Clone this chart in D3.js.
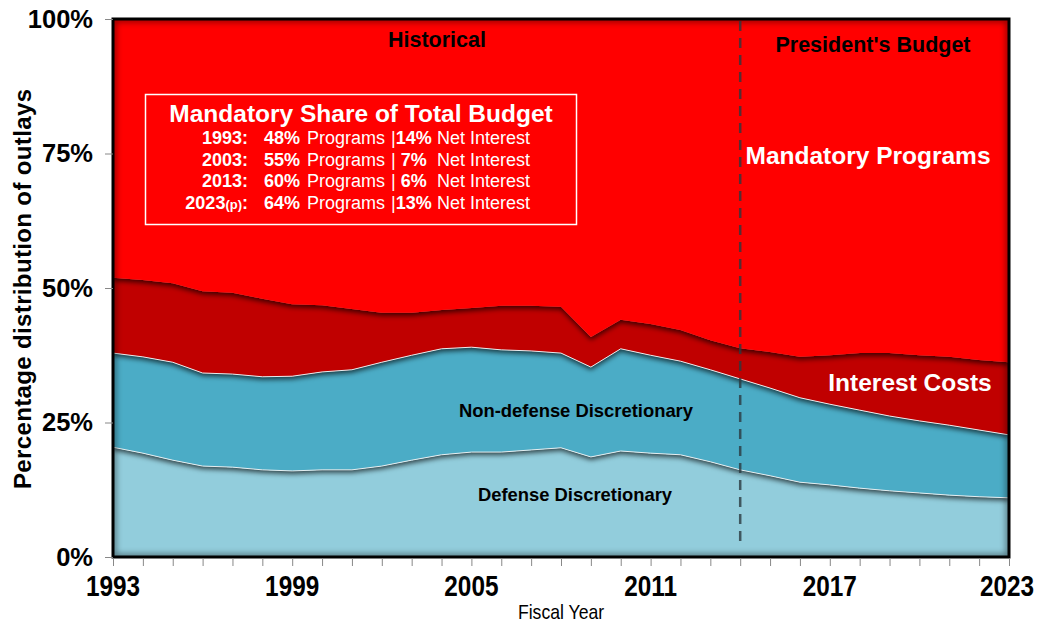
<!DOCTYPE html>
<html>
<head>
<meta charset="utf-8">
<script src="https://cdn.jsdelivr.net/npm/d3@7"></script>
<style>
    body { margin: 0; background: #fff; }
    svg { display: block; font-family: "Liberation Sans", Arial, sans-serif; }
</style>
</head>
<body>
<div id="chart"></div>
<script>
// shares of total outlays (%)
const years = [1993, 1994, 1995, 1996, 1997, 1998, 1999, 2000, 2001, 2002, 2003, 2004, 2005, 2006, 2007,
    2008, 2009, 2010, 2011, 2012, 2013, 2014, 2015, 2016, 2017, 2018, 2019, 2020, 2021, 2022, 2023];
const defense = [20.4, 19.3, 18.0, 16.9, 16.7, 16.2, 16.0, 16.2, 16.2, 16.9, 18.0, 19.0, 19.5, 19.5, 19.9,
    20.3, 18.6, 19.7, 19.3, 19.0, 17.7, 16.2, 15.1, 13.9, 13.4, 12.8, 12.3, 11.9, 11.5, 11.2, 11.0];
const nonDefense = [17.5, 17.9, 18.2, 17.3, 17.3, 17.3, 17.6, 18.2, 18.6, 19.3, 19.5, 19.7, 19.5, 19.0, 18.4,
    17.6, 16.7, 19.0, 18.2, 17.4, 17.1, 16.9, 16.3, 15.7, 15.0, 14.5, 13.9, 13.4, 13.0, 12.4, 11.7];
const interest = [14.0, 14.3, 14.7, 15.2, 15.1, 14.5, 13.4, 12.4, 11.3, 9.2, 7.9, 7.2, 7.3, 8.2, 8.4,
    8.6, 5.6, 5.4, 5.8, 5.8, 5.5, 5.7, 6.7, 7.6, 9.1, 10.6, 11.7, 12.2, 12.7, 13.0, 13.5];
const mandatory = [48.1, 48.5, 49.1, 50.6, 50.9, 52.0, 53.0, 53.2, 53.9, 54.6, 54.6, 54.1, 53.7, 53.3, 53.3,
    53.5, 59.1, 55.9, 56.7, 57.8, 59.7, 61.2, 61.9, 62.8, 62.5, 62.1, 62.1, 62.5, 62.8, 63.4, 63.8];

const seriesKeys = ['defense', 'nonDefense', 'interest', 'mandatory'];
const seriesColors = ['#92CDDC', '#4BACC6', '#C00000', '#FF0000'];

const yTicks = [0, 25, 50, 75, 100];
const xLabelYears = [1993, 1999, 2005, 2011, 2017, 2023];
const budgetStart = 2014;

// text box: mandatory share of total budget
const boxYears = ['1993', '2003', '2013', '2023'];
const boxPrograms = [48, 55, 60, 64];
const boxInterest = [14, 7, 6, 13];

let width = 1039,
    height = 625,
    margin = {top: 19, right: 30, bottom: 68, left: 113},
    chartWidth = width - margin.left - margin.right,
    chartHeight = height - margin.top - margin.bottom;

let rows = years.map((year, i) => ({
    year,
    defense: defense[i],
    nonDefense: nonDefense[i],
    interest: interest[i],
    mandatory: mandatory[i]
}));

let stacked = d3.stack().keys(seriesKeys)(rows);

let scaleX = d3.scaleLinear().domain([1993, 2023]).range([0, chartWidth]);
let scaleY = d3.scaleLinear().domain([0, 100]).range([chartHeight, 0]);

let svg = d3.select('#chart').append('svg')
    .attr('width', width)
    .attr('height', height);

let defs = svg.append('defs');
defs.append('clipPath').attr('id', 'plotClip')
    .append('rect')
    .attr('width', chartWidth)
    .attr('height', chartHeight);

let shadow = defs.append('filter').attr('id', 'shadow')
    .attr('x', '-5%').attr('y', '-5%').attr('width', '110%').attr('height', '120%');
shadow.append('feDropShadow')
    .attr('dx', 0).attr('dy', 3)
    .attr('stdDeviation', 2.5)
    .attr('flood-color', '#000')
    .attr('flood-opacity', 0.65);

// dark glow along the inside of the frame
let inner = defs.append('filter').attr('id', 'inner');
inner.append('feGaussianBlur').attr('stdDeviation', 3);

let g = svg.append('g')
    .attr('transform', `translate(${margin.left}, ${margin.top})`);

let plot = g.append('g').attr('clip-path', 'url(#plotClip)');

let area = d3.area()
    .x((d) => scaleX(d.data.year))
    .y0((d) => scaleY(d[0]))
    .y1((d) => scaleY(d[1]));

plot.selectAll('path.layer')
    .data(stacked)
    .enter()
    .append('path')
    .attr('class', 'layer')
    .attr('d', area)
    .attr('fill', (d, i) => seriesColors[i])
    .attr('filter', (d, i) => i > 0 ? 'url(#shadow)' : null);

// light edge along the top of the blue layers
let edge = d3.line()
    .x((d) => scaleX(d.data.year))
    .y((d) => scaleY(d[1]));

plot.selectAll('path.edge')
    .data(stacked.slice(0, 2))
    .enter()
    .append('path')
    .attr('class', 'edge')
    .attr('d', edge)
    .attr('fill', 'none')
    .attr('stroke', '#e6eef0')
    .attr('stroke-width', 1);

plot.append('rect')
    .attr('width', chartWidth)
    .attr('height', chartHeight)
    .attr('fill', 'none')
    .attr('stroke', '#000')
    .attr('stroke-opacity', 0.45)
    .attr('stroke-width', 6)
    .attr('filter', 'url(#inner)');

// historical / budget divider
g.append('line')
    .attr('x1', scaleX(budgetStart))
    .attr('x2', scaleX(budgetStart))
    .attr('y1', 2)
    .attr('y2', chartHeight - 9)
    .attr('stroke', '#2b3a40')
    .attr('stroke-opacity', 0.8)
    .attr('stroke-width', 2.5)
    .attr('stroke-dasharray', '10,7');

// frame
g.append('rect')
    .attr('x', 0)
    .attr('y', 0)
    .attr('width', chartWidth)
    .attr('height', chartHeight)
    .attr('fill', 'none')
    .attr('stroke', '#000')
    .attr('stroke-width', 3);

// axes
let xAxis = d3.axisBottom(scaleX)
    .tickValues(years)
    .tickSize(8)
    .tickFormat('');

g.append('g')
    .attr('transform', `translate(0, ${chartHeight + 1})`)
    .call(xAxis)
    .call((ax) => ax.select('.domain').remove())
    .call((ax) => ax.selectAll('line').attr('stroke', '#888'));

// narrow bold year labels: squeeze a regular bold face horizontally
g.selectAll('text.xlabel')
    .data(xLabelYears)
    .enter()
    .append('text')
    .attr('class', 'xlabel')
    .attr('transform', (d, i) => {
        let x = scaleX(d) - (i === xLabelYears.length - 1 ? 2 : 0);
        return `translate(${x}, ${chartHeight + 39}) scale(0.84, 1)`;
    })
    .attr('text-anchor', 'middle')
    .style('font-weight', 'bold')
    .style('font-size', '29px')
    .text((d) => d);

let yAxis = d3.axisLeft(scaleY)
    .tickValues(yTicks)
    .tickSize(8)
    .tickPadding(12)
    .tickFormat((d) => d + '%');

g.append('g')
    .call(yAxis)
    .call((ax) => ax.select('.domain').remove())
    .call((ax) => ax.selectAll('line').attr('stroke', '#888'))
    .call((ax) => ax.selectAll('text')
        .attr('fill', '#000')
        .style('font-family', '"Liberation Sans", Arial, sans-serif')
        .style('font-weight', 'bold')
        .style('font-size', '25.5px'));

svg.append('text')
    .attr('transform', `translate(31, ${margin.top + chartHeight / 2 + 1}) rotate(-90)`)
    .attr('text-anchor', 'middle')
    .attr('textLength', 400)
    .attr('lengthAdjust', 'spacing')
    .style('font-weight', 'bold')
    .style('font-size', '24px')
    .text('Percentage distribution of outlays');

svg.append('text')
    .attr('transform', 'translate(561, 619) scale(0.86, 1)')
    .attr('text-anchor', 'middle')
    .style('font-size', '20.5px')
    .text('Fiscal Year');

// in-chart labels
let labels = [
    {text: 'Historical', x: 437, y: 47, size: 21.5, fill: '#000'},
    {text: "President's Budget", x: 873, y: 52, size: 21.5, fill: '#000'},
    {text: 'Mandatory Programs', x: 868, y: 164, size: 24.5, fill: '#fff'},
    {text: 'Interest Costs', x: 910, y: 391, size: 24.5, fill: '#fff'},
    {text: 'Non-defense Discretionary', x: 576, y: 417, size: 18.4, fill: '#000'},
    {text: 'Defense Discretionary', x: 575, y: 501, size: 18.4, fill: '#000'}
];

svg.selectAll('text.label')
    .data(labels)
    .enter()
    .append('text')
    .attr('class', 'label')
    .attr('x', (d) => d.x)
    .attr('y', (d) => d.y)
    .attr('text-anchor', 'middle')
    .attr('fill', (d) => d.fill)
    .style('font-weight', 'bold')
    .style('font-size', (d) => d.size + 'px')
    .text((d) => d.text);

// summary box
let box = svg.append('g').attr('fill', '#fff');

box.append('rect')
    .attr('x', 145.5)
    .attr('y', 94.5)
    .attr('width', 431)
    .attr('height', 130)
    .attr('fill', 'none')
    .attr('stroke', '#fff')
    .attr('stroke-width', 1.5);

box.append('text')
    .attr('x', 361)
    .attr('y', 122)
    .attr('text-anchor', 'middle')
    .style('font-weight', 'bold')
    .style('font-size', '24.5px')
    .text('Mandatory Share of Total Budget');

let boxRows = box.selectAll('g.row')
    .data(boxYears)
    .enter()
    .append('g')
    .attr('class', 'row')
    .attr('transform', (d, i) => `translate(0, ${144 + i * 21.6})`)
    .style('font-size', '18px');

let yearText = boxRows.append('text')
    .attr('x', 248)
    .attr('text-anchor', 'end')
    .style('font-weight', 'bold');
yearText.append('tspan').text((d) => d);
yearText.append('tspan')
    .style('font-size', '13px')
    .text((d, i) => i === boxYears.length - 1 ? '(p)' : '');
yearText.append('tspan').text(':');

boxRows.append('text')
    .attr('x', 264)
    .style('font-weight', 'bold')
    .text((d, i) => boxPrograms[i] + '%');

boxRows.append('text')
    .attr('x', 307)
    .text('Programs');

let interestText = boxRows.append('text')
    .attr('x', 391);
interestText.append('tspan').text((d, i) => boxInterest[i] < 10 ? '| ' : '|');
interestText.append('tspan')
    .style('font-weight', 'bold')
    .text((d, i) => boxInterest[i] + '%');

boxRows.append('text')
    .attr('x', 437)
    .text('Net Interest');
</script>
</body>
</html>
